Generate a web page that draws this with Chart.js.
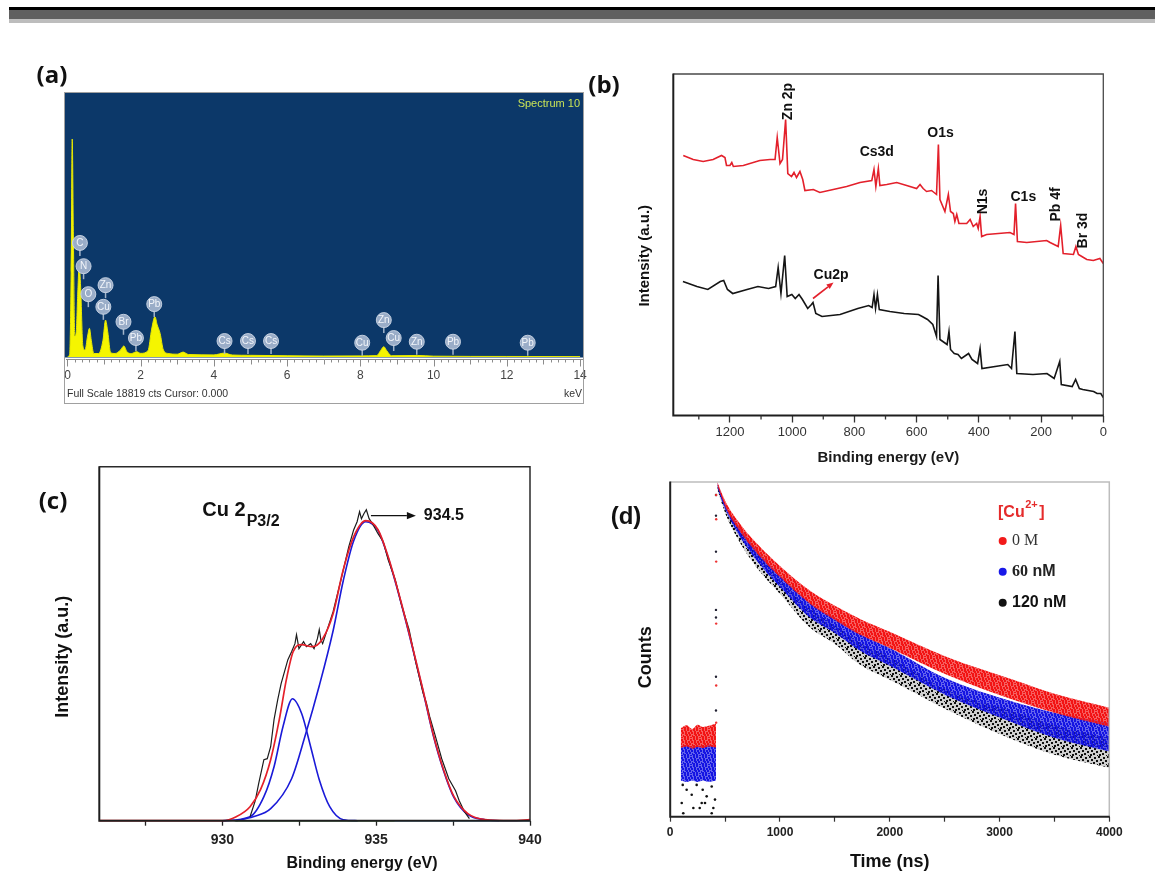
<!DOCTYPE html>
<html><head><meta charset="utf-8">
<script src="https://cdn.jsdelivr.net/npm/chart.js@4.4.1/dist/chart.umd.min.js"></script>
<style>
html,body{margin:0;padding:0;background:#fff;}
body{width:1155px;height:895px;position:relative;overflow:hidden;}
.bar{position:absolute;left:9px;right:0;}
canvas{position:absolute;left:0;top:0;}
</style></head><body>
<div class="bar" style="top:7px;height:3px;background:#000"></div>
<div class="bar" style="top:10px;height:9px;background:#5f5f5f"></div>
<div class="bar" style="top:19px;height:4px;background:#bdbdbd"></div>
<canvas id="ca" width="1155" height="895"></canvas>
<canvas id="cb" width="1155" height="895"></canvas>
<canvas id="cc" width="1155" height="895"></canvas>
<canvas id="cd" width="1155" height="895"></canvas>
<script>
// ===== (a) EDS spectrum =====
const edsKeV = [0.0,0.06,0.1,0.13,0.16,0.2,0.24,0.28,0.32,0.36,0.42,0.48,0.55,0.6,0.65,0.72,0.85,0.97,1.04,1.1,1.18,1.3,1.45,1.54,1.63,1.75,1.89,2.0,2.2,2.3,2.39,2.45,2.53,2.62,2.75,3.0,3.16,3.3,4.0,4.29,4.5,5.0,6.0,7.0,8.0,8.45,8.55,8.64,8.72,8.85,9.57,10.0,12.0,14.0];
const edsCounts = [0,200,6000,15600,9000,1500,1800,4500,6500,5000,800,500,1500,2050,1200,250,250,1200,2640,1800,300,250,500,790,350,250,380,260,450,2000,2880,2300,1690,500,250,200,350,180,150,280,140,120,90,70,80,100,450,735,450,90,110,60,40,30];
const edsTicks = [0,2,4,6,8,10,12,14];
const edsMarkerNames = ['C','N','O','Zn','Cu','Br','Pb','Pb','Cs','Cs','Cs','Cu','Zn','Cu','Zn','Pb','Pb'];
const edsMarkerKeV = [0.34,0.44,0.57,1.04,0.98,1.53,1.87,2.37,4.29,4.93,5.56,8.05,8.64,8.91,9.54,10.53,12.57];
const edsMarkerLevel = [8161,6497,4498,5141,3591,2520,1357,3784,1142,1142,1142,1021,2642,1357,1092,1092,1021];

// ===== (b) XPS survey =====
const xpsRedEV = [1350,1318,1286,1254,1227,1216,1211,1200,1194,1189,1157,1104,1071,1055,1048,1039,1031,1021,1014,1002,994,986,975,966,959,932,911,868,825,782,744,737,731,723,718,696,664,632,600,589,579,568,552,536,530,525,509,498,491,482,477,471,464,439,428,418,407,402,396,391,375,300,287,282,276,246,182,171,145,137,129,96,88,80,69,53,32,11,0];
const xpsRedI = [260,256,254,256,260,258,250,250,253,249,250,255,256,256,278,252,256,296,242,239,243,238,244,236,225,226,223,226,229,233,235,246,229,247,230,231,233,230,227,231,227,224,225,221,271,216,204,221,204,202,194,201,192,192,196,189,192,187,199,179,181,183,181,212,174,173,175,173,169,190,162,161,169,161,159,156,155,157,152];
const xpsBlackEV = [1351,1306,1271,1231,1220,1208,1191,1145,1110,1076,1053,1045,1036,1024,1016,1001,990,978,967,950,938,933,924,904,846,789,754,743,737,732,726,720,686,640,594,582,565,548,536,531,525,502,496,491,479,467,456,433,422,404,396,390,307,295,284,278,226,181,158,140,135,100,89,77,66,31,20,8,0];
const xpsBlackI = [134,129,126,134,135,126,122,126,129,127,129,148,122,160,119,121,117,121,116,107,111,113,102,99,101,107,110,108,121,107,121,106,104,102,101,99,96,91,79,140,76,71,84,66,62,61,57,62,56,52,67,47,51,47,84,42,41,42,37,54,31,29,36,27,26,24,22,22,18];
const xpsTicks = [0,200,400,600,800,1000,1200];
const xpsMinorTicks = [100,300,500,700,900,1100,1300];
const xpsLabels = ['Zn 2p','Cs3d','O1s','N1s','C1s','Pb 4f','Br 3d','Cu2p'];
const xpsLabelEV = [1014,728,523,386,257,150,64,875];
const xpsLabelLevel = [314,263,282,214,218,211,185,140];
const xpsLabelVertical = [true,false,false,true,false,true,true,false];
const xpsArrowEV = [933,867];
const xpsArrowLevel = [117,133];

// ===== (c) Cu 2p3/2 =====
const cRawEV = [930.9,931.07,931.18,931.35,931.46,931.57,931.68,931.8,931.91,932.02,932.13,932.25,932.36,932.41,932.49,932.64,932.73,932.87,932.98,933.09,933.15,933.2,933.26,933.6,933.88,934.11,934.27,934.38,934.46,934.52,934.6,934.68,934.77,934.88,935.06,935.23,935.39,935.62,935.84,936.07,936.29,936.52,936.63,936.74,936.91,937.13,937.36,937.58,937.7,937.87,938.03];
const cRawI = [4,20,37,61,62,74,101,121,137,149,161,169,177,186,172,179,174,177,172,182,191,181,177,209,244,274,291,299,309,302,307,311,302,297,287,279,261,241,214,191,158,128,118,104,86,62,42,30,20,9,2];
const cFitEV = [926,930,930.45,930.9,931.24,931.57,931.85,932.08,932.3,932.58,932.92,933.26,933.6,933.93,934.27,934.66,935.06,935.39,935.79,936.18,936.52,936.85,937.19,937.53,937.98,938.54,939.4,940];
const cFitI = [0,0,4,14,31,61,101,141,169,176,174,182,207,251,284,300,291,264,221,174,131,87,51,24,7,1,0,1];
const cPeak1EV = [930,930.9,931.35,931.68,931.97,932.28,932.58,932.87,933.15,933.49,933.93,934.4];
const cPeak1I = [0,4,24,54,94,122,107,74,41,14,1,0];
const cPeak2EV = [930.45,931.0,931.57,932.25,932.7,933.15,933.6,933.93,934.27,934.66,935.06,935.39,935.79,936.18,936.52,936.85,937.19,937.53,937.98,938.54,939];
const cPeak2I = [0,4,12,42,86,135,190,240,280,299,290,263,220,173,130,86,50,23,6,1,0];
const cGreenEV = [930.4,935.6], cGreenI = [0,0];
const cCyanEV = [935.6,940], cCyanI = [0,0];
const cTicks = [927.5,930,932.5,935,937.5,940];
const cNoteEV = 929.35, cNoteLevel = 310;
const cArrowEV = [934.83,936.29], cArrowLevel = 305;

// ===== (d) PL decay =====
const tBand = [430,485,515,665,820,1000,1275,1500,1730,2000,2520,3125,3500,4000];
const redUpper = [10000,6620,5458,2825,1675,993,500,331,231,162,81,43.2,29.4,20.0];
const redLower = [8954,5768,4634,2265,1271,734,349,225,149,104,49.6,24.9,17.5,11.9];
const blueUpper = [9727,6266,5024,2530,1381,776,359,238,153,104,44.4,23.6,17.5,13.3];
const blueLower = [8476,5309,4266,1922,1021,557,238,157,96,63.5,27.9,13.3,8.8,6.0];
const blackUpper = [9462,5930,4762,2329,1271,695,305,196,120,81,32.8,17.9,12.2,8.8];
const blackLower = [7810,4898,3821,1629,842,460,181,116,65.3,43.2,19.0,8.3,5.5,3.85];
const tPre = [96,150,200,250,300,350,417];
const preRedUpper = [11.5,12.4,11.2,12.6,11.8,12.2,13.0];
const preRedLower = [6.6,6.9,6.5,6.8,6.6,6.9,6.7];
const preBlueUpper = [7.0,7.2,6.9,7.1,7.0,7.3,7.1];
const preBlueLower = [2.7,2.6,2.7,2.6,2.7,2.6,2.7];
const blackDotT = [114,150,196,241,296,332,378,408,105,211,287,317,393,119,378,269];
const blackDotC = [2.4,2.1,1.83,2.4,2.1,1.75,2.3,1.6,1.46,1.27,1.46,1.46,1.27,1.1,1.1,1.27];
const riseDarkT = [417,417,417,417,417,417,417];
const riseDarkC = [7000,3960,1472,296,240,47,18.6];
const riseRedT = [419,419,419,419,419,419];
const riseRedC = [7000,3588,1118,203,37,13.3];
const tTicks = [0,500,1000,1500,2000,2500,3000,3500,4000];
const legendNames = ['0 M','60 nM','120 nM'];

// ===== helpers =====
const W = 1155, H = 895;
Chart.defaults.font.family = '"Liberation Sans", Arial, sans-serif';
Chart.defaults.color = '#222';
function pts(xs, ys){ return xs.map((x,i)=>({x:x, y:ys[i]})); }
function text(ctx, s, x, y, font, color, align, baseline, rot){
  ctx.save(); ctx.font = font; ctx.fillStyle = color;
  ctx.textAlign = align || 'left'; ctx.textBaseline = baseline || 'middle';
  ctx.translate(x, y); if (rot) ctx.rotate(rot); ctx.fillText(s, 0, 0); ctx.restore();
}
function arrow(ctx, x1, y1, x2, y2, color, width, head){
  ctx.save(); ctx.strokeStyle = color; ctx.fillStyle = color; ctx.lineWidth = width;
  const a = Math.atan2(y2-y1, x2-x1);
  const hx = x2 - head*Math.cos(a), hy = y2 - head*Math.sin(a);
  ctx.beginPath(); ctx.moveTo(x1, y1); ctx.lineTo(hx, hy); ctx.stroke();
  ctx.beginPath(); ctx.moveTo(x2, y2);
  ctx.lineTo(hx + head*0.4*Math.sin(a), hy - head*0.4*Math.cos(a));
  ctx.lineTo(hx - head*0.4*Math.sin(a), hy + head*0.4*Math.cos(a));
  ctx.closePath(); ctx.fill(); ctx.restore();
}
function boxLines(ctx, a, strong, weak, sw, ww){
  ctx.save();
  ctx.strokeStyle = weak; ctx.lineWidth = ww;
  ctx.beginPath(); ctx.moveTo(a.left, a.top); ctx.lineTo(a.right, a.top); ctx.lineTo(a.right, a.bottom); ctx.stroke();
  ctx.strokeStyle = strong; ctx.lineWidth = sw;
  ctx.beginPath(); ctx.moveTo(a.left, a.top - 0.5); ctx.lineTo(a.left, a.bottom); ctx.lineTo(a.right + 0.5, a.bottom); ctx.stroke();
  ctx.restore();
}
function makeChart(id, area, axisH, cfg){
  const o = cfg.options;
  o.responsive = false; o.animation = false; o.devicePixelRatio = 1; o.events = [];
  o.layout = {padding: {left: area.l, top: area.t, right: W - area.r, bottom: H - area.b - axisH}};
  o.plugins = {legend: {display: false}, tooltip: {enabled: false}};
  o.scales.x.afterFit = s => { s.height = axisH; s.paddingLeft = 0; s.paddingRight = 0; };
  return new Chart(document.getElementById(id), cfg);
}
function setTicks(arr){ return s => { s.ticks = arr.map(v => ({value: v})); }; }
// speckle texture for the dense scatter bands (style only)
function speckle(color, base, size, dots){
  const c = document.createElement('canvas'); c.width = size; c.height = size;
  const g = c.getContext('2d');
  if (base){ g.fillStyle = base; g.fillRect(0, 0, size, size); }
  g.fillStyle = color;
  dots.forEach(d => g.fillRect(d[0], d[1], 2, 2));
  return g.createPattern(c, 'repeat');
}
const DENSE = [[0,0],[3,0],[6,1],[1,2],[4,3],[7,3],[2,5],[5,5],[8,6],[0,7],[3,7],[6,8],[1,4]];
const SPARSE = [[0,0],[5,1],[2,3],[7,4],[4,6],[1,7],[8,8]];

// ===== (a) =====
const edsPlugin = {
  id: 'edsDecor',
  beforeDraw(chart){
    const {ctx, chartArea: a} = chart;
    ctx.save(); ctx.fillStyle = '#0c3869';
    ctx.fillRect(a.left - 1, a.top - 1, a.right - a.left + 1, a.bottom - a.top + 1.5);
    ctx.restore();
  },
  afterDraw(chart){
    const {ctx, chartArea: a, scales: {x, y}} = chart;
    ctx.save();
    const ry = a.bottom + 2.5;
    ctx.strokeStyle = '#8c8c8c'; ctx.lineWidth = 1;
    ctx.beginPath(); ctx.moveTo(a.left, ry); ctx.lineTo(a.right, ry); ctx.stroke();
    for (let k = 0; k <= 70; k++){
      const px = Math.round(x.getPixelForValue(k * 0.2)) + 0.5;
      const len = (k % 10 === 0) ? 7 : (k % 5 === 0 ? 5 : 3);
      ctx.beginPath(); ctx.moveTo(px, ry); ctx.lineTo(px, ry + len); ctx.stroke();
    }
    edsMarkerNames.forEach((nm, i) => {
      const px = x.getPixelForValue(edsMarkerKeV[i]);
      const py = y.getPixelForValue(edsMarkerLevel[i]);
      ctx.strokeStyle = 'rgba(170,186,208,0.95)'; ctx.lineWidth = 1.5;
      ctx.beginPath(); ctx.moveTo(px, py + 6); ctx.lineTo(px, py + 13); ctx.stroke();
      ctx.beginPath(); ctx.arc(px, py, 7.5, 0, Math.PI * 2);
      ctx.fillStyle = 'rgba(160,178,204,0.96)'; ctx.fill();
      ctx.strokeStyle = 'rgba(205,215,230,0.9)'; ctx.lineWidth = 1; ctx.stroke();
      text(ctx, nm, px, py + 0.5, '10px "Liberation Sans"', '#f2f5fa', 'center');
    });
    text(ctx, 'Spectrum 10', a.right - 3, a.top + 10, '11px "Liberation Sans"', '#c9e356', 'right');
    text(ctx, 'Full Scale 18819 cts Cursor: 0.000', a.left + 1, a.bottom + 37, '10.5px "Liberation Sans"', '#333', 'left');
    text(ctx, 'keV', a.right - 1, a.bottom + 37, '10.5px "Liberation Sans"', '#333', 'right');
    ctx.strokeStyle = '#a0a0a0'; ctx.lineWidth = 1;
    ctx.strokeRect(a.left - 1.5, a.top - 1.5, a.right - a.left + 2, a.bottom - a.top + 48);
    text(ctx, '(a)', 52, 76, 'bold 24px "Open Sans"', '#111', 'center');
    ctx.restore();
  }
};
makeChart('ca', {l: 66, t: 94, r: 583, b: 357}, 40, {
  type: 'line',
  data: {datasets: [{data: pts(edsKeV, edsCounts), borderColor: '#e8e800', borderWidth: 1,
    backgroundColor: '#f5f500', fill: 'origin', pointRadius: 0, cubicInterpolationMode: 'monotone'}]},
  options: {scales: {
    x: {type: 'linear', min: -0.04, max: 14.08, afterBuildTicks: setTicks(edsTicks),
        grid: {display: false, drawTicks: false, tickLength: 0}, border: {display: false},
        ticks: {font: {size: 12}, color: '#444', padding: 11, maxRotation: 0, autoSkip: false, callback: v => String(v)}},
    y: {display: false, min: 0, max: 18819}
  }},
  plugins: [edsPlugin]
});

// ===== (b) =====
const xpsPlugin = {
  id: 'xpsDecor',
  afterDraw(chart){
    const {ctx, chartArea: a, scales: {x, y}} = chart;
    boxLines(ctx, a, '#1e1e1e', '#4a4a4a', 2, 1.3);
    ctx.save(); ctx.strokeStyle = '#333'; ctx.lineWidth = 1.3;
    xpsMinorTicks.forEach(v => { const px = x.getPixelForValue(v);
      ctx.beginPath(); ctx.moveTo(px, a.bottom); ctx.lineTo(px, a.bottom + 4); ctx.stroke(); });
    ctx.restore();
    xpsLabels.forEach((s, i) => {
      text(ctx, s, x.getPixelForValue(xpsLabelEV[i]), y.getPixelForValue(xpsLabelLevel[i]),
        'bold 14px "Liberation Sans"', '#111', 'center', 'middle', xpsLabelVertical[i] ? -Math.PI / 2 : 0);
    });
    arrow(ctx, x.getPixelForValue(xpsArrowEV[0]), y.getPixelForValue(xpsArrowLevel[0]),
      x.getPixelForValue(xpsArrowEV[1]), y.getPixelForValue(xpsArrowLevel[1]), '#e3202b', 1.6, 7);
    text(ctx, 'Intensity (a.u.)', a.left - 28, (a.top + a.bottom) / 2 + 11, 'bold 15px "Liberation Sans"', '#111', 'center', 'middle', -Math.PI / 2);
    text(ctx, '(b)', 604, 86, 'bold 24px "Open Sans"', '#111', 'center');
  }
};
makeChart('cb', {l: 673.3, t: 74, r: 1103.3, b: 415.5}, 60, {
  type: 'line',
  data: {datasets: [
    {data: pts(xpsRedEV, xpsRedI), borderColor: '#e3202b', borderWidth: 1.6, pointRadius: 0, tension: 0},
    {data: pts(xpsBlackEV, xpsBlackI), borderColor: '#151515', borderWidth: 1.6, pointRadius: 0, tension: 0}
  ]},
  options: {scales: {
    x: {type: 'linear', reverse: true, min: 0, max: 1382, afterBuildTicks: setTicks(xpsTicks),
        grid: {drawOnChartArea: false, tickLength: 7, color: '#333', tickWidth: 1.3}, border: {display: false},
        ticks: {font: {size: 13}, color: '#333', padding: 2, maxRotation: 0, autoSkip: false, callback: v => String(v)},
        title: {display: true, text: 'Binding energy (eV)', font: {size: 15, weight: 'bold'}, color: '#1a1a1a', padding: {top: 0, bottom: 8.5}}},
    y: {display: false, min: 0, max: 341.5}
  }},
  plugins: [xpsPlugin]
});

// ===== (c) =====
const cuPlugin = {
  id: 'cuDecor',
  afterDraw(chart){
    const {ctx, chartArea: a, scales: {x, y}} = chart;
    boxLines(ctx, a, '#1e1e1e', '#2a2a2a', 2, 1.5);
    const nx = x.getPixelForValue(cNoteEV), ny = y.getPixelForValue(cNoteLevel);
    ctx.save(); ctx.font = 'bold 20px "Liberation Sans"';
    const w = ctx.measureText('Cu 2').width; ctx.restore();
    text(ctx, 'Cu 2', nx, ny, 'bold 20px "Liberation Sans"', '#111', 'left');
    text(ctx, 'P3/2', nx + w + 1, ny + 11, 'bold 16px "Liberation Sans"', '#111', 'left');
    const ay = y.getPixelForValue(cArrowLevel);
    arrow(ctx, x.getPixelForValue(cArrowEV[0]), ay, x.getPixelForValue(cArrowEV[1]), ay, '#111', 1.3, 9);
    text(ctx, '934.5', x.getPixelForValue(cArrowEV[1]) + 8, ay, 'bold 16px "Liberation Sans"', '#111', 'left');
    text(ctx, 'Binding energy (eV)', 362, a.bottom + 42.5, 'bold 16px "Liberation Sans"', '#111', 'center');
    text(ctx, 'Intensity (a.u.)', a.left - 36.5, (a.top + a.bottom) / 2 + 13, 'bold 18px "Liberation Sans"', '#111', 'center', 'middle', -Math.PI / 2);
    text(ctx, '(c)', 53, 502, 'bold 24px "Open Sans"', '#111', 'center');
  }
};
makeChart('cc', {l: 99.3, t: 466.7, r: 530, b: 820.7}, 30, {
  type: 'line',
  data: {datasets: [
    {data: pts(cGreenEV, cGreenI), borderColor: '#3c9a3c', borderWidth: 1.5, pointRadius: 0, clip: 3},
    {data: pts(cCyanEV, cCyanI), borderColor: '#4aa6d8', borderWidth: 1.5, pointRadius: 0, clip: 3},
    {data: pts(cFitEV, cFitI), borderColor: '#e5202a', borderWidth: 1.7, pointRadius: 0, cubicInterpolationMode: 'monotone', clip: 3},
    {data: pts(cRawEV, cRawI), borderColor: '#1c1c1c', borderWidth: 1.2, pointRadius: 0, tension: 0, clip: 3},
    {data: pts(cPeak1EV, cPeak1I), borderColor: '#1a1ad8', borderWidth: 1.6, pointRadius: 0, cubicInterpolationMode: 'monotone', clip: 3},
    {data: pts(cPeak2EV, cPeak2I), borderColor: '#1a1ad8', borderWidth: 1.6, pointRadius: 0, cubicInterpolationMode: 'monotone', clip: 3}
  ]},
  options: {scales: {
    x: {type: 'linear', min: 926, max: 940, afterBuildTicks: setTicks(cTicks),
        grid: {drawOnChartArea: false, tickLength: 5, color: '#222', tickWidth: 1.3}, border: {display: false},
        ticks: {font: {size: 14, weight: 'bold'}, color: '#222', padding: 6, maxRotation: 0, autoSkip: false,
                callback: v => (v % 5 === 0 ? String(v) : '')}},
    y: {display: false, min: 0, max: 354}
  }},
  plugins: [cuPlugin]
});

// ===== (d) =====
const RED_P = speckle('#f21414', 'rgba(242,20,20,0.68)', 9, DENSE);
const BLUE_P = speckle('#1515e2', 'rgba(21,21,226,0.66)', 9, DENSE);
const BLACK_P = speckle('#111111', 'rgba(17,17,17,0.2)', 9, SPARSE);
function bandSets(tArr, up, lo, fillStyle){
  return [
    {data: pts(tArr, up), borderWidth: 0, borderColor: 'rgba(0,0,0,0)', pointRadius: 0, fill: false, cubicInterpolationMode: 'monotone'},
    {data: pts(tArr, lo), borderWidth: 0, borderColor: 'rgba(0,0,0,0)', pointRadius: 0, fill: '-1', backgroundColor: fillStyle, cubicInterpolationMode: 'monotone'}
  ];
}
const decayPlugin = {
  id: 'decayDecor',
  afterDraw(chart){
    const {ctx, chartArea: a} = chart;
    boxLines(ctx, a, '#222', '#bdbdbd', 2, 1.5);
    ctx.save(); ctx.font = 'bold 16px "Liberation Sans"';
    const lx = 998, ly = 513;
    text(ctx, '[Cu', lx, ly, 'bold 16px "Liberation Sans"', '#e52b2b', 'left');
    const w1 = ctx.measureText('[Cu').width;
    text(ctx, '2+', lx + w1 + 0.5, ly - 8, 'bold 11px "Liberation Sans"', '#e52b2b', 'left');
    ctx.font = 'bold 11px "Liberation Sans"';
    const w2 = ctx.measureText('2+').width;
    text(ctx, ']', lx + w1 + w2 + 2, ly, 'bold 16px "Liberation Sans"', '#e52b2b', 'left');
    const cols = ['#f21a1a', '#1818e8', '#111'];
    const ys = [541, 571.7, 602.7];
    cols.forEach((c, i) => { ctx.beginPath(); ctx.arc(1002.7, ys[i], 4, 0, Math.PI * 2); ctx.fillStyle = c; ctx.fill(); });
    text(ctx, legendNames[0], 1012, ys[0], '16px "Liberation Serif"', '#333', 'left');
    ctx.font = 'bold 16px "Liberation Serif"';
    const w60 = ctx.measureText('60').width;
    text(ctx, '60', 1012, ys[1], 'bold 16px "Liberation Serif"', '#222', 'left');
    text(ctx, ' nM', 1012 + w60, ys[1], 'bold 16px "Liberation Sans"', '#222', 'left');
    text(ctx, legendNames[2], 1012, ys[2], 'bold 16px "Liberation Sans"', '#111', 'left');
    ctx.restore();
    text(ctx, 'Counts', a.left - 24.6, (a.top + a.bottom) / 2 + 8, 'bold 18px "Liberation Sans"', '#111', 'center', 'middle', -Math.PI / 2);
    text(ctx, '(d)', 626, 517, 'bold 24px "Liberation Sans"', '#111', 'center');
  }
};
makeChart('cd', {l: 670.2, t: 482, r: 1109.3, b: 816.7}, 60, {
  type: 'line',
  data: {datasets: [
    ...bandSets(tBand, redUpper, redLower, RED_P),
    ...bandSets(tBand, blueUpper, blueLower, BLUE_P),
    ...bandSets(tBand, blackUpper, blackLower, BLACK_P),
    ...bandSets(tPre, preRedUpper, preRedLower, RED_P),
    ...bandSets(tPre, preBlueUpper, preBlueLower, BLUE_P),
    {data: pts(blackDotT, blackDotC), showLine: false, pointRadius: 1.3, pointBorderWidth: 0, pointBackgroundColor: '#111'},
    {data: pts(riseRedT, riseRedC), showLine: false, pointRadius: 1.2, pointBorderWidth: 0, pointBackgroundColor: '#e33'},
    {data: pts(riseDarkT, riseDarkC), showLine: false, pointRadius: 1.2, pointBorderWidth: 0, pointBackgroundColor: '#223'}
  ]},
  options: {scales: {
    x: {type: 'linear', min: 0, max: 4000, afterBuildTicks: setTicks(tTicks),
        grid: {drawOnChartArea: false, tickLength: 5, color: '#333', tickWidth: 1.2}, border: {display: false},
        ticks: {font: {size: 12, weight: 'bold'}, color: '#222', padding: 4, maxRotation: 0, autoSkip: false,
                callback: v => (v % 1000 === 0 ? String(v) : '')},
        title: {display: true, text: 'Time (ns)', font: {size: 18, weight: 'bold'}, color: '#111', padding: {top: 0, bottom: 4.2}}},
    y: {type: 'logarithmic', display: false, min: 1, max: 10000}
  }},
  plugins: [decayPlugin]
});
</script>
</body></html>
